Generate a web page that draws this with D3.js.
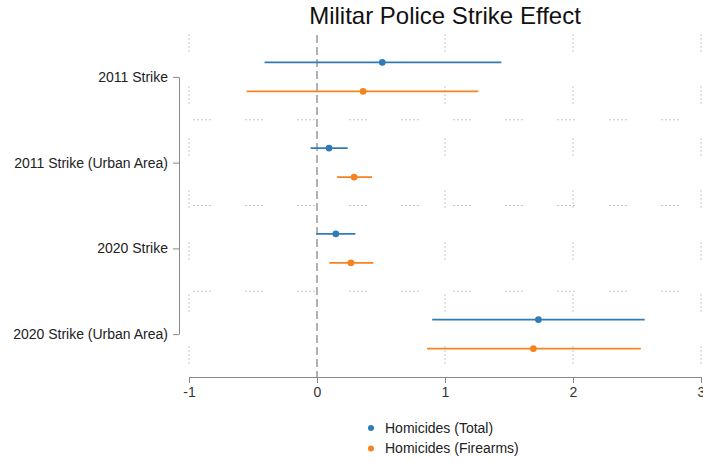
<!DOCTYPE html>
<html>
<head>
<meta charset="utf-8">
<script src="https://cdn.jsdelivr.net/npm/d3@7"></script>
<style>
  body { margin: 0; background: #fff; }
  text { font-family: "Liberation Sans", Arial, sans-serif; }
</style>
</head>
<body>
<div id="chart"></div>
<script>
// data
const groups = ["2011 Strike", "2011 Strike (Urban Area)", "2020 Strike", "2020 Strike (Urban Area)"];
const seriesNames = ["Homicides (Total)", "Homicides (Firearms)"];
const seriesColors = ["#2f7bb6", "#f5841f"];
const totalEst = [0.51, 0.094, 0.147, 1.73];
const totalLow = [-0.41, -0.05, -0.005, 0.90];
const totalHigh = [1.44, 0.24, 0.30, 2.56];
const fireEst = [0.36, 0.29, 0.265, 1.69];
const fireLow = [-0.55, 0.157, 0.097, 0.86];
const fireHigh = [1.26, 0.43, 0.44, 2.53];
const xTicks = [-1, 0, 1, 2, 3];

const width = 703, height = 462;
const margin = { top: 34, right: 2, bottom: 85, left: 189 };

const rows = [];
groups.forEach((g, i) => {
  rows.push({ group: g, s: 0, est: totalEst[i], lo: totalLow[i], hi: totalHigh[i] });
  rows.push({ group: g, s: 1, est: fireEst[i], lo: fireLow[i], hi: fireHigh[i] });
});

const x = d3.scaleLinear().domain([-1, 3]).range([margin.left, width - margin.right]);
const y = d3.scaleBand().domain(groups).range([margin.top, height - margin.bottom]);
const offset = [-14.5, 14.5];

const svg = d3.select("#chart").append("svg")
  .attr("width", width)
  .attr("height", height);

// title
svg.append("text")
  .attr("x", (x(-1) + x(3)) / 2)
  .attr("y", 24)
  .attr("text-anchor", "middle")
  .style("font-size", "24px")
  .attr("fill", "#111")
  .text("Militar Police Strike Effect");

const dotted = "2,2,2,2,2,2,2,2,2,34";

// vertical grid
svg.append("g").selectAll("line")
  .data(xTicks.filter(d => d !== 0))
  .join("line")
  .attr("x1", d => x(d)).attr("x2", d => x(d))
  .attr("y1", margin.top).attr("y2", height - margin.bottom)
  .attr("stroke", "#c8c8c8")
  .attr("stroke-width", 1)
  .attr("stroke-dasharray", dotted);

// horizontal separators between groups
svg.append("g").selectAll("line")
  .data(groups.slice(1))
  .join("line")
  .attr("x1", x(-1) + 4).attr("x2", x(3))
  .attr("y1", d => y(d)).attr("y2", d => y(d))
  .attr("stroke", "#c8c8c8")
  .attr("stroke-width", 1)
  .attr("stroke-dasharray", dotted);

// zero reference line
svg.append("line")
  .attr("x1", x(0)).attr("x2", x(0))
  .attr("y1", margin.top + 1).attr("y2", height - margin.bottom)
  .attr("stroke", "#8a8a8a")
  .attr("stroke-width", 1.3)
  .attr("stroke-dasharray", "8,4");

// x axis
const xAxis = svg.append("g")
  .attr("transform", `translate(0,${height - margin.bottom})`)
  .call(d3.axisBottom(x).tickValues(xTicks).tickFormat(d => String(d)).tickSize(6).tickPadding(4));
xAxis.select(".domain").attr("stroke", "#888");
xAxis.selectAll(".tick line").attr("stroke", "#888");
xAxis.selectAll(".tick text").attr("fill", "#333").style("font-size", "14px");

// y axis
const yCenter = d => y(d) + y.bandwidth() / 2;
const yAxis = svg.append("g")
  .attr("transform", `translate(179,0)`)
  .call(d3.axisLeft(d3.scalePoint().domain(groups).range([yCenter(groups[0]), yCenter(groups[3])]))
    .tickSize(6).tickSizeOuter(0).tickPadding(5));
yAxis.select(".domain").attr("stroke", "#888");
yAxis.selectAll(".tick line").attr("stroke", "#888");
yAxis.selectAll(".tick text").attr("fill", "#222").style("font-size", "14px");

// confidence intervals
svg.append("g").selectAll("line")
  .data(rows)
  .join("line")
  .attr("x1", d => x(d.lo)).attr("x2", d => x(d.hi))
  .attr("y1", d => yCenter(d.group) + offset[d.s])
  .attr("y2", d => yCenter(d.group) + offset[d.s])
  .attr("stroke", d => seriesColors[d.s])
  .attr("stroke-width", 1.6);

// point estimates
svg.append("g").selectAll("circle")
  .data(rows)
  .join("circle")
  .attr("cx", d => x(d.est))
  .attr("cy", d => yCenter(d.group) + offset[d.s])
  .attr("r", 3.3)
  .attr("fill", d => seriesColors[d.s]);

// legend
const legend = svg.append("g").attr("transform", "translate(371,428)");
seriesNames.forEach((name, i) => {
  const row = legend.append("g").attr("transform", `translate(0,${i * 20.5})`);
  row.append("circle").attr("r", 3).attr("fill", seriesColors[i]);
  row.append("text")
    .attr("x", 14).attr("dy", "0.35em")
    .attr("fill", "#222")
    .style("font-size", "14px")
    .text(name);
});
</script>
</body>
</html>
